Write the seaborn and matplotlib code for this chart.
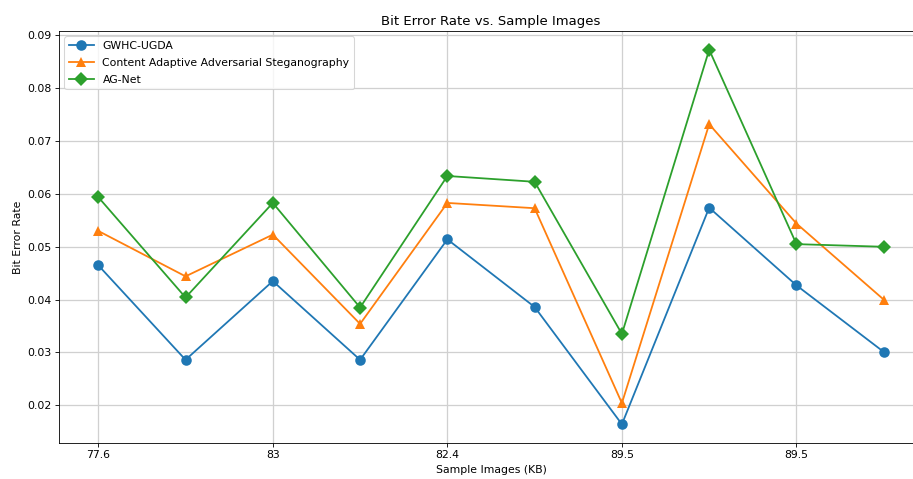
import numpy as np
import pandas as pd
import matplotlib
matplotlib.use('Agg')
import matplotlib.pyplot as plt
import seaborn as sns

# data
sample_idx = list(range(10))
tick_pos = [0, 2, 4, 6, 8]
tick_labels = ['77.6', '83', '82.4', '89.5', '89.5']

gwhc = [0.0465, 0.0286, 0.0435, 0.0286, 0.0514, 0.0386, 0.0164, 0.0574, 0.0427, 0.0301]
caas = [0.0530, 0.0444, 0.0523, 0.0354, 0.0583, 0.0573, 0.0204, 0.0732, 0.0544, 0.0400]
agnet = [0.0594, 0.0404, 0.0583, 0.0385, 0.0634, 0.0623, 0.0335, 0.0873, 0.0505, 0.0500]

series = [
    ('GWHC-UGDA', gwhc, 'o', '#1f77b4'),
    ('Content Adaptive Adversarial Steganography', caas, '^', '#ff7f0e'),
    ('AG-Net', agnet, 'D', '#2ca02c'),
]

plt.rcParams['font.size'] = 10.3

fig = plt.figure(figsize=(913 / 76, 479 / 76), dpi=76)
ax = fig.add_axes([59 / 913, 1 - 443 / 479, (923 - 59) / 913, (443 - 31) / 479])

for name, vals, mk, col in series:
    df = pd.DataFrame({'x': sample_idx, 'y': vals})
    sns.lineplot(data=df, x='x', y='y', marker=mk, color=col, label=name,
                 markersize=10, markeredgewidth=0, linewidth=1.7, ax=ax)

ax.set_xticks(tick_pos)
ax.set_xticklabels(tick_labels)
ax.set_title('Bit Error Rate vs. Sample Images', fontsize=12.6)
ax.set_xlabel('Sample Images (KB)')
ax.set_ylabel('Bit Error Rate')
ax.grid(True, color='#d0d0d0', linewidth=1.2)
ax.legend(loc='upper left', labelspacing=0.65, handlelength=2.3)

fig.savefig('out.png', dpi=76)
